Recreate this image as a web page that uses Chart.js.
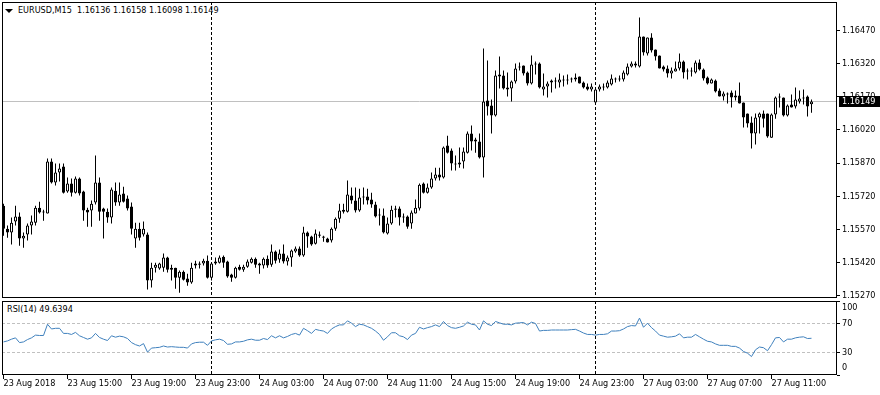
<!DOCTYPE html>
<html>
<head>
<meta charset="utf-8">
<script src="https://cdn.jsdelivr.net/npm/chart.js@4.4.1/dist/chart.umd.min.js"></script>
<style>
  html, body { margin: 0; padding: 0; background: #fff; }
  #wrap { position: relative; width: 880px; height: 395px; overflow: hidden;
          font-family: 'DejaVu Sans Condensed', 'Liberation Sans', sans-serif; font-size: 9px; color: #000; }
  canvas { position: absolute; left: 0; }
  #main { top: 0; }
  #rsi { top: 299px; }
  .lbl { position: absolute; white-space: pre; line-height: 13px; }
  #title { left: 18px; top: 4px; }
  #tri { position: absolute; left: 5px; top: 9px; width: 0; height: 0;
         border-left: 4px solid transparent; border-right: 4px solid transparent; border-top: 4px solid #000; }
  #rsiTitle { left: 7px; top: 303px; }
</style>
</head>
<body>
<div id="wrap">
  <div id="tri"></div>
  <div id="title" class="lbl"></div>
  <div id="rsiTitle" class="lbl"></div>
  <canvas id="main" width="880" height="300"></canvas>
  <canvas id="rsi" width="880" height="96"></canvas>
</div>
<script>
// EURUSD M15, 23 Aug 2018 11:00 -> 27 Aug 2018 13:30
const symbol = 'EURUSD,M15';

const open = [
  1.15677,1.15573,1.15555,1.15605,1.15628,1.15528,1.15546,1.15587,1.15600,1.15668,
  1.15646,1.15641,1.15877,1.15782,1.15827,1.15854,1.15741,1.15777,1.15736,1.15800,
  1.15741,1.15659,1.15655,1.15691,1.15782,1.15664,1.15650,1.15623,1.15745,1.15691,
  1.15732,1.15709,1.15673,1.15528,1.15573,1.15546,1.15546,1.15338,1.15396,1.15392,
  1.15396,1.15442,1.15387,1.15396,1.15351,1.15378,1.15347,1.15329,1.15406,1.15410,
  1.15415,1.15428,1.15351,1.15415,1.15419,1.15446,1.15424,1.15365,1.15351,1.15401,
  1.15387,1.15401,1.15419,1.15437,1.15415,1.15406,1.15437,1.15410,1.15469,1.15433,
  1.15460,1.15424,1.15442,1.15469,1.15483,1.15451,1.15555,1.15537,1.15505,1.15546,
  1.15537,1.15528,1.15519,1.15573,1.15618,1.15650,1.15650,1.15723,1.15700,1.15655,
  1.15714,1.15718,1.15705,1.15682,1.15632,1.15632,1.15551,1.15596,1.15659,1.15664,
  1.15628,1.15628,1.15596,1.15641,1.15664,1.15777,1.15736,1.15759,1.15800,1.15818,
  1.15804,1.15949,1.15927,1.15868,1.15863,1.15877,1.15917,1.16004,1.15967,1.15967,
  1.15895,1.16153,1.16130,1.16085,1.16262,1.16266,1.16212,1.16207,1.16239,1.16302,
  1.16312,1.16280,1.16230,1.16316,1.16321,1.16203,1.16216,1.16235,1.16239,1.16235,
  1.16244,1.16244,1.16248,1.16248,1.16262,1.16235,1.16216,1.16203,1.16144,1.16203,
  1.16212,1.16212,1.16225,1.16248,1.16248,1.16248,1.16271,1.16307,1.16321,1.16307,
  1.16443,1.16366,1.16438,1.16384,1.16357,1.16307,1.16298,1.16275,1.16284,1.16298,
  1.16330,1.16289,1.16284,1.16280,1.16325,1.16293,1.16257,1.16230,1.16244,1.16198,
  1.16171,1.16180,1.16189,1.16176,1.16176,1.16144,1.16094,1.16053,1.16004,1.16076,
  1.16094,1.16094,1.15985,1.16090,1.16171,1.16167,1.16085,1.16135,1.16126,1.16148,
  1.16167,1.16171,1.16136
];
const high = [
  1.15686,1.15587,1.15623,1.15677,1.15646,1.15555,1.15596,1.15632,1.15677,1.15695,
  1.15659,1.15890,1.15890,1.15868,1.15868,1.15868,1.15804,1.15800,1.15809,1.15804,
  1.15745,1.15668,1.15700,1.15904,1.15804,1.15668,1.15664,1.15759,1.15782,1.15782,
  1.15763,1.15723,1.15691,1.15600,1.15600,1.15605,1.15555,1.15419,1.15419,1.15419,
  1.15460,1.15446,1.15410,1.15396,1.15383,1.15383,1.15369,1.15419,1.15428,1.15424,
  1.15437,1.15451,1.15419,1.15442,1.15451,1.15451,1.15428,1.15369,1.15401,1.15410,
  1.15410,1.15433,1.15442,1.15442,1.15419,1.15442,1.15451,1.15501,1.15474,1.15478,
  1.15501,1.15451,1.15478,1.15492,1.15492,1.15582,1.15560,1.15541,1.15569,1.15560,
  1.15541,1.15532,1.15578,1.15623,1.15686,1.15686,1.15791,1.15759,1.15759,1.15754,
  1.15759,1.15754,1.15736,1.15695,1.15664,1.15664,1.15623,1.15677,1.15677,1.15673,
  1.15641,1.15632,1.15655,1.15705,1.15777,1.15782,1.15777,1.15827,1.15849,1.15849,
  1.15945,1.15994,1.15936,1.15904,1.15940,1.15940,1.16013,1.16040,1.15985,1.16004,
  1.16389,1.16334,1.16158,1.16289,1.16352,1.16289,1.16280,1.16244,1.16321,1.16325,
  1.16312,1.16284,1.16357,1.16330,1.16325,1.16275,1.16239,1.16248,1.16257,1.16275,
  1.16266,1.16271,1.16257,1.16275,1.16262,1.16239,1.16230,1.16230,1.16207,1.16225,
  1.16230,1.16244,1.16271,1.16257,1.16266,1.16289,1.16321,1.16330,1.16330,1.16529,
  1.16443,1.16438,1.16457,1.16384,1.16357,1.16312,1.16312,1.16302,1.16330,1.16366,
  1.16334,1.16298,1.16302,1.16334,1.16339,1.16298,1.16262,1.16253,1.16248,1.16207,
  1.16194,1.16189,1.16198,1.16198,1.16235,1.16144,1.16094,1.16081,1.16094,1.16099,
  1.16108,1.16094,1.16094,1.16171,1.16185,1.16167,1.16135,1.16180,1.16212,1.16198,
  1.16203,1.16176,1.16158
];
const low = [
  1.15541,1.15532,1.15501,1.15587,1.15496,1.15487,1.15519,1.15546,1.15587,1.15641,
  1.15609,1.15641,1.15777,1.15768,1.15786,1.15732,1.15736,1.15718,1.15732,1.15723,
  1.15609,1.15582,1.15582,1.15682,1.15609,1.15528,1.15600,1.15596,1.15677,1.15677,
  1.15691,1.15655,1.15546,1.15487,1.15519,1.15537,1.15297,1.15306,1.15374,1.15387,
  1.15378,1.15374,1.15338,1.15301,1.15283,1.15338,1.15315,1.15324,1.15392,1.15392,
  1.15406,1.15347,1.15338,1.15410,1.15415,1.15396,1.15351,1.15333,1.15347,1.15383,
  1.15378,1.15396,1.15415,1.15396,1.15369,1.15392,1.15396,1.15401,1.15415,1.15419,
  1.15415,1.15406,1.15401,1.15464,1.15446,1.15446,1.15487,1.15496,1.15501,1.15532,
  1.15514,1.15510,1.15510,1.15564,1.15600,1.15641,1.15646,1.15686,1.15646,1.15650,
  1.15682,1.15682,1.15668,1.15623,1.15587,1.15551,1.15546,1.15591,1.15623,1.15587,
  1.15600,1.15573,1.15573,1.15641,1.15655,1.15732,1.15732,1.15754,1.15791,1.15791,
  1.15800,1.15913,1.15836,1.15836,1.15849,1.15845,1.15913,1.15927,1.15917,1.15890,
  1.15804,1.16085,1.16004,1.16081,1.16207,1.16203,1.16171,1.16148,1.16230,1.16289,
  1.16266,1.16221,1.16225,1.16271,1.16207,1.16176,1.16167,1.16189,1.16207,1.16212,
  1.16216,1.16225,1.16235,1.16239,1.16230,1.16207,1.16198,1.16194,1.16144,1.16194,
  1.16198,1.16207,1.16221,1.16235,1.16239,1.16239,1.16266,1.16302,1.16302,1.16302,
  1.16357,1.16357,1.16370,1.16334,1.16298,1.16284,1.16257,1.16253,1.16284,1.16289,
  1.16253,1.16248,1.16262,1.16275,1.16289,1.16244,1.16225,1.16230,1.16189,1.16171,
  1.16153,1.16139,1.16121,1.16153,1.16139,1.16031,1.16031,1.15936,1.15954,1.16004,
  1.16031,1.15985,1.15985,1.16071,1.16121,1.16081,1.16081,1.16121,1.16117,1.16139,
  1.16135,1.16081,1.16098
];
const close = [
  1.15573,1.15555,1.15600,1.15628,1.15528,1.15541,1.15587,1.15605,1.15668,1.15646,
  1.15650,1.15877,1.15782,1.15827,1.15845,1.15736,1.15777,1.15736,1.15800,1.15732,
  1.15655,1.15646,1.15686,1.15782,1.15650,1.15650,1.15623,1.15750,1.15691,1.15727,
  1.15695,1.15664,1.15573,1.15573,1.15532,1.15573,1.15338,1.15396,1.15410,1.15415,
  1.15442,1.15387,1.15396,1.15351,1.15378,1.15342,1.15329,1.15396,1.15415,1.15415,
  1.15428,1.15351,1.15415,1.15424,1.15442,1.15419,1.15356,1.15351,1.15396,1.15387,
  1.15401,1.15424,1.15437,1.15410,1.15406,1.15437,1.15406,1.15469,1.15428,1.15460,
  1.15424,1.15442,1.15474,1.15483,1.15451,1.15555,1.15537,1.15501,1.15551,1.15541,
  1.15532,1.15510,1.15573,1.15618,1.15655,1.15659,1.15727,1.15700,1.15655,1.15714,
  1.15718,1.15700,1.15682,1.15628,1.15637,1.15555,1.15596,1.15659,1.15664,1.15623,
  1.15623,1.15582,1.15646,1.15668,1.15772,1.15736,1.15759,1.15800,1.15818,1.15804,
  1.15940,1.15917,1.15868,1.15863,1.15872,1.15922,1.16004,1.15967,1.15976,1.15895,
  1.16148,1.16126,1.16085,1.16266,1.16271,1.16207,1.16203,1.16239,1.16298,1.16307,
  1.16275,1.16230,1.16316,1.16321,1.16212,1.16216,1.16230,1.16244,1.16244,1.16248,
  1.16248,1.16248,1.16253,1.16257,1.16230,1.16212,1.16203,1.16216,1.16203,1.16216,
  1.16216,1.16235,1.16253,1.16253,1.16253,1.16280,1.16307,1.16321,1.16312,1.16443,
  1.16370,1.16438,1.16380,1.16352,1.16298,1.16293,1.16275,1.16289,1.16298,1.16330,
  1.16280,1.16284,1.16289,1.16325,1.16293,1.16253,1.16230,1.16248,1.16194,1.16171,
  1.16185,1.16185,1.16167,1.16167,1.16139,1.16076,1.16049,1.16004,1.16076,1.16094,
  1.16071,1.15990,1.16090,1.16167,1.16167,1.16085,1.16130,1.16121,1.16158,1.16162,
  1.16162,1.16126,1.16149
];
const rsi = [
  44.7,46.1,48.4,50.2,43.8,44.7,47.9,50.2,53.9,53.4,
  53.4,68.6,62.2,63.1,63.1,56.2,56.2,54.8,57.6,53.0,
  50.7,48.4,50.2,56.2,50.7,48.4,46.6,53.0,51.1,52.5,
  51.6,49.3,43.8,41.0,39.2,42.4,30.9,36.4,36.9,37.4,
  39.2,37.8,38.3,37.8,37.4,37.4,36.4,42.0,43.8,44.3,
  44.3,40.1,46.1,47.5,48.4,46.6,41.5,42.0,44.7,44.7,
  45.6,47.5,48.4,47.0,47.0,49.3,47.9,53.0,50.2,53.0,
  50.2,52.1,54.8,56.2,53.9,63.1,59.9,56.2,61.7,60.3,
  59.4,56.2,62.2,65.4,67.7,67.7,73.2,70.0,65.4,68.6,
  67.7,65.4,63.1,59.4,54.8,47.0,51.6,57.1,57.1,53.0,
  51.6,47.9,53.9,56.2,64.5,62.2,64.0,65.4,67.7,65.4,
  72.3,66.8,64.0,63.1,64.5,66.3,71.4,68.6,67.7,60.8,
  73.2,68.6,66.8,72.3,70.5,68.6,68.6,67.7,70.0,70.5,
  70.9,67.7,71.4,69.6,59.4,60.3,60.3,60.8,60.8,60.8,
  60.8,60.8,61.3,61.7,59.4,56.7,54.8,54.8,53.9,54.8,
  54.8,55.7,59.4,59.4,59.9,62.2,65.4,66.8,66.3,76.9,
  64.5,70.0,64.0,59.4,53.9,52.5,51.1,51.6,52.5,55.7,
  50.2,51.1,51.1,54.8,51.6,48.4,45.6,44.7,42.0,40.1,
  40.1,40.1,38.7,38.7,36.4,31.8,29.5,24.9,34.1,37.8,
  36.9,32.8,41.0,50.2,50.7,44.7,48.4,48.4,50.2,51.1,
  51.6,49.3,49.6394
];

// axis ticks
const priceTicks = [1.15270, 1.15420, 1.15570, 1.15720, 1.15870, 1.16020, 1.16170, 1.16320, 1.16470];
const rsiLevels = [0, 30, 70, 100];
const xTickIdx = [0, 16, 32, 48, 64, 80, 96, 112, 128, 144, 160, 176, 192];
const xTickLabels = ['23 Aug 2018', '23 Aug 15:00', '23 Aug 19:00', '23 Aug 23:00', '24 Aug 03:00',
  '24 Aug 07:00', '24 Aug 11:00', '24 Aug 15:00', '24 Aug 19:00', '24 Aug 23:00',
  '27 Aug 03:00', '27 Aug 07:00', '27 Aug 11:00'];
// day separators (24 Aug 00:00, 27 Aug 00:00)
const separatorIdx = [52, 148];

const FONT = "'DejaVu Sans Condensed', 'Liberation Sans', sans-serif";
const FONT_SIZE = 9;
Chart.defaults.font.family = FONT;
Chart.defaults.font.size = FONT_SIZE;
Chart.defaults.color = '#000';

const last = close.length - 1;
document.getElementById('title').textContent =
  symbol + '  ' + [open[last], high[last], low[last], close[last]].map(v => v.toFixed(5)).join(' ');
document.getElementById('rsiTitle').textContent = 'RSI(14) ' + rsi[last].toFixed(4);

const X_MIN = -0.375, X_MAX = 208.375;

const separators = {
  id: 'separators',
  beforeDatasetsDraw(chart) {
    const { ctx, chartArea: a, scales: { x } } = chart;
    ctx.save();
    ctx.strokeStyle = '#000';
    ctx.lineWidth = 1;
    ctx.setLineDash([3, 2]);
    separatorIdx.forEach(i => {
      const px = Math.floor(x.getPixelForValue(i)) + 0.5;
      ctx.beginPath();
      ctx.moveTo(px, a.top);
      ctx.lineTo(px, a.bottom);
      ctx.stroke();
    });
    ctx.restore();
  }
};

const frame = {
  id: 'frame',
  afterDatasetsDraw(chart) {
    const { ctx, chartArea: a } = chart;
    ctx.save();
    ctx.strokeStyle = '#000';
    ctx.lineWidth = 1;
    ctx.strokeRect(a.left + 0.5, a.top + 0.5, a.right - a.left - 1, a.bottom - a.top - 1);
    ctx.restore();
  }
};

// bid line + current price box
const bid = {
  id: 'bid',
  beforeDatasetsDraw(chart) {
    const { ctx, chartArea: a, scales: { y } } = chart;
    const py = Math.floor(y.getPixelForValue(close[last])) + 0.5;
    ctx.save();
    ctx.strokeStyle = '#c0c0c0';
    ctx.lineWidth = 1;
    ctx.beginPath();
    ctx.moveTo(a.left, py);
    ctx.lineTo(a.right, py);
    ctx.stroke();
    ctx.restore();
  },
  afterDraw(chart) {
    const { ctx, chartArea: a, scales: { y } } = chart;
    const py = Math.round(y.getPixelForValue(close[last]));
    ctx.save();
    ctx.fillStyle = '#000';
    ctx.fillRect(a.right + 2, py - 5, chart.width - a.right - 2, 11);
    ctx.fillStyle = '#fff';
    ctx.font = FONT_SIZE + 'px ' + FONT;
    ctx.textBaseline = 'middle';
    ctx.textAlign = 'left';
    ctx.fillText(close[last].toFixed(5), a.right + 5, py + 0.5);
    ctx.restore();
  }
};

const rsiLabels = {
  id: 'rsiLabels',
  afterDraw(chart) {
    const { ctx, chartArea: a, scales: { y } } = chart;
    ctx.save();
    ctx.fillStyle = '#000';
    ctx.font = FONT_SIZE + 'px ' + FONT;
    ctx.textBaseline = 'middle';
    ctx.textAlign = 'left';
    rsiLevels.forEach(v => {
      const py = Math.min(Math.max(y.getPixelForValue(v), a.top + 7), a.bottom - 7);
      ctx.fillText(String(v), a.right + 5, py);
    });
    ctx.restore();
  }
};

// candles as floating bars: bodies [open, close], wicks [low, high]
const bodies = open.map((o, i) => ({ x: i, y: [Math.min(o, close[i]), Math.max(o, close[i])] }));
const wicks = open.map((o, i) => ({ x: i, y: [low[i], high[i]] }));
const bodyFill = open.map((o, i) => close[i] < o ? '#000' : '#fff');

new Chart(document.getElementById('main'), {
  type: 'bar',
  data: {
    datasets: [
      { data: bodies, backgroundColor: bodyFill, borderColor: '#000', borderWidth: 1,
        borderSkipped: false, grouped: false, barPercentage: 1, categoryPercentage: 1,
        maxBarThickness: 3, inflateAmount: 0, minBarLength: 1 },
      { data: wicks, backgroundColor: '#000', borderWidth: 0, grouped: false,
        barPercentage: 1, categoryPercentage: 1, maxBarThickness: 1, inflateAmount: 0 }
    ]
  },
  options: {
    responsive: false,
    animation: false,
    devicePixelRatio: 1,
    layout: { padding: { left: 2, top: 2, right: 0, bottom: 2 } },
    plugins: { legend: { display: false }, tooltip: { enabled: false } },
    scales: {
      x: { type: 'linear', min: X_MIN, max: X_MAX, offset: false, display: false },
      y: {
        type: 'linear', position: 'right', min: 1.15259, max: 1.16599, bounds: 'data',
        afterBuildTicks: s => { s.ticks = priceTicks.map(v => ({ value: v })); },
        afterFit: s => { s.width = 43; s.paddingTop = 0; s.paddingBottom = 0; },
        grid: { drawOnChartArea: false, drawTicks: true, tickLength: 3, tickColor: '#000' },
        border: { display: false },
        ticks: { padding: 2, autoSkip: false, callback: v => v.toFixed(5) }
      }
    }
  },
  plugins: [separators, bid, frame]
});

new Chart(document.getElementById('rsi'), {
  type: 'line',
  data: {
    datasets: [{
      data: rsi.map((v, i) => ({ x: i, y: v })),
      borderColor: '#3f80bd', borderWidth: 1, pointRadius: 0, tension: 0, fill: false
    }]
  },
  options: {
    responsive: false,
    animation: false,
    devicePixelRatio: 1,
    layout: { padding: { left: 2, top: 2, right: 0, bottom: 0 } },
    plugins: { legend: { display: false }, tooltip: { enabled: false } },
    scales: {
      x: {
        type: 'linear', position: 'bottom', min: X_MIN, max: X_MAX, offset: false, bounds: 'data',
        afterBuildTicks: s => { s.ticks = xTickIdx.map(v => ({ value: v })); },
        afterFit: s => { s.height = 20; s.paddingLeft = 0; s.paddingRight = 0; },
        grid: { drawOnChartArea: false, drawTicks: true, tickLength: 4, tickColor: '#000' },
        border: { display: false },
        ticks: { autoSkip: false, maxRotation: 0, minRotation: 0, align: 'start', padding: 0,
                 font: { lineHeight: 1 }, callback: (v, k) => xTickLabels[k] }
      },
      y: {
        type: 'linear', position: 'right', min: 0, max: 100, bounds: 'data',
        afterBuildTicks: s => { s.ticks = rsiLevels.map(v => ({ value: v })); },
        afterFit: s => { s.width = 43; s.paddingTop = 0; s.paddingBottom = 0; },
        grid: {
          color: c => (c.tick && (c.tick.value === 70 || c.tick.value === 30)) ? '#c0c0c0' : 'rgba(0,0,0,0)',
          drawTicks: true, tickLength: 3, tickColor: '#000'
        },
        border: { display: false, dash: [3, 2] },
        ticks: { display: false }
      }
    }
  },
  plugins: [separators, frame, rsiLabels]
});
</script>
</body>
</html>
